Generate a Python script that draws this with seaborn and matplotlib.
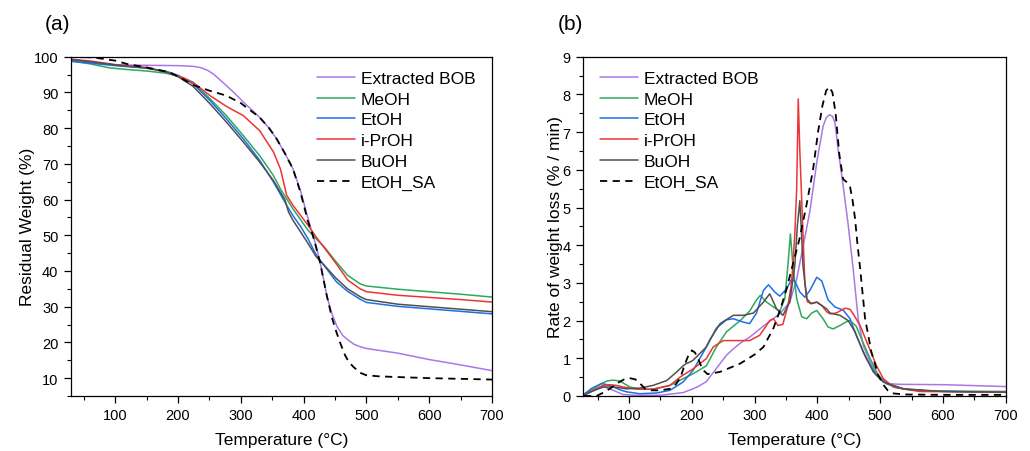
import numpy as np
import pandas as pd
import matplotlib
matplotlib.use("Agg")
import matplotlib.pyplot as plt
from matplotlib.ticker import MultipleLocator
import seaborn as sns

# ---------------- data: panel (a) TGA ----------------
labels = ["Extracted BOB", "MeOH", "EtOH", "i-PrOH", "BuOH", "EtOH_SA"]

tga_bob_T = [30, 60, 100, 150, 200, 225, 237, 247, 256, 265, 277, 290, 304, 320, 330, 345, 357, 370, 383, 395, 405, 413, 420, 428, 437, 445, 453, 462, 470, 480, 490, 500, 550, 600, 650, 700]
tga_bob_W = [99.0, 98.3, 97.7, 97.6, 97.5, 97.3, 96.9, 96.2, 95.2, 93.8, 91.9, 89.8, 87.3, 84.7, 83.0, 80.0, 77.0, 73.0, 68.6, 62.5, 56.0, 51.0, 47.0, 41.0, 33.0, 28.0, 24.5, 22.0, 20.8, 19.5, 18.8, 18.3, 17.0, 15.2, 13.7, 12.1]

tga_meoh_T = [30, 60, 90, 120, 150, 180, 200, 224, 251, 277, 304, 330, 352, 363, 383, 407, 420, 435, 452, 470, 490, 500, 550, 600, 650, 700]
tga_meoh_W = [98.8, 98.0, 96.9, 96.4, 96.0, 95.4, 94.6, 92.8, 88.2, 83.5, 77.9, 72.3, 66.7, 63.0, 57.4, 51.4, 49.0, 46.3, 42.5, 38.8, 36.4, 35.8, 34.9, 34.2, 33.5, 32.7]

tga_etoh_T = [30, 60, 100, 150, 180, 200, 224, 251, 277, 304, 330, 352, 373, 383, 395, 407, 420, 435, 452, 470, 490, 500, 550, 600, 650, 700]
tga_etoh_W = [98.7, 98.2, 97.5, 96.8, 96.0, 94.8, 92.4, 87.7, 82.6, 77.0, 71.0, 64.9, 58.4, 55.5, 52.5, 49.0, 44.5, 41.0, 37.0, 34.3, 32.1, 31.2, 30.1, 29.4, 28.7, 28.0]

tga_iproh_T = [30, 60, 100, 150, 187, 210, 224, 251, 277, 304, 330, 352, 363, 373, 383, 407, 420, 435, 452, 470, 490, 500, 550, 600, 650, 700]
tga_iproh_W = [99.3, 98.8, 97.8, 97.0, 95.4, 94.0, 92.8, 89.1, 86.1, 83.5, 79.3, 73.3, 68.6, 61.2, 58.4, 52.8, 49.5, 46.0, 42.0, 37.5, 35.0, 34.2, 33.2, 32.6, 32.0, 31.3]

tga_buoh_T = [30, 60, 100, 150, 180, 200, 224, 251, 277, 304, 330, 352, 370, 376, 383, 395, 407, 420, 435, 452, 470, 490, 500, 550, 600, 650, 700]
tga_buoh_W = [99.2, 98.6, 97.7, 96.8, 95.8, 94.4, 91.7, 86.8, 81.7, 76.1, 70.5, 65.3, 60.0, 56.5, 54.2, 51.0, 47.7, 44.0, 41.2, 37.9, 35.0, 32.8, 32.0, 30.7, 30.0, 29.3, 28.6]

tga_sa_T = [30, 65, 100, 118, 150, 187, 205, 224, 250, 277, 300, 330, 345, 357, 370, 383, 395, 407, 413, 420, 426, 437, 445, 452, 459, 466, 472, 479, 490, 500, 520, 550, 600, 650, 700]
tga_sa_W = [100.0, 99.8, 98.9, 98.0, 97.0, 95.6, 94.0, 92.1, 90.5, 89.1, 87.0, 83.0, 80.0, 77.0, 73.0, 68.6, 62.0, 53.8, 51.0, 46.5, 42.5, 33.0, 27.0, 23.0, 19.5, 16.4, 14.5, 13.2, 11.5, 10.8, 10.5, 10.3, 10.0, 9.8, 9.6]

# ---------------- data: panel (b) DTG ----------------
dtg_bob_T = [28, 45, 60, 75, 90, 110, 150, 186, 200, 210, 223, 239, 255, 266, 277, 292, 319, 340, 356, 367, 377, 388, 399, 409, 414, 419, 424, 428, 433, 441, 449, 457, 465, 473, 484, 494, 510, 530, 600, 700]
dtg_bob_v = [0.04, 0.15, 0.24, 0.15, 0.04, 0.02, 0.02, 0.09, 0.18, 0.25, 0.38, 0.73, 1.08, 1.25, 1.40, 1.56, 1.92, 2.18, 2.49, 3.1, 3.95, 4.9, 6.2, 7.15, 7.38, 7.46, 7.42, 7.25, 6.55, 5.58, 4.55, 3.37, 2.05, 1.34, 0.9, 0.59, 0.33, 0.31, 0.3, 0.25]

dtg_meoh_T = [28, 40, 55, 65, 74, 85, 101, 117, 138, 165, 186, 202, 223, 239, 255, 277, 292, 303, 309, 319, 330, 340, 348, 353, 357, 361, 367, 375, 383, 391, 399, 409, 417, 425, 436, 446, 452, 462, 470, 484, 497, 510, 525, 550, 600, 700]
dtg_meoh_v = [0.05, 0.15, 0.32, 0.4, 0.42, 0.4, 0.24, 0.18, 0.18, 0.28, 0.46, 0.59, 0.8, 1.3, 1.7, 2.0, 2.25, 2.55, 2.67, 2.49, 2.36, 2.25, 2.58, 3.46, 4.3, 3.46, 2.58, 2.1, 2.05, 2.2, 2.27, 2.05, 1.83, 1.78, 1.87, 1.97, 2.0, 1.85, 1.52, 0.99, 0.55, 0.33, 0.22, 0.15, 0.13, 0.12]

dtg_etoh_T = [28, 40, 56, 65, 75, 86, 96, 117, 144, 165, 186, 202, 223, 239, 255, 266, 282, 292, 303, 314, 322, 332, 340, 351, 359, 364, 372, 380, 388, 399, 407, 417, 428, 441, 452, 462, 478, 494, 510, 537, 579, 700]
dtg_etoh_v = [0.04, 0.2, 0.33, 0.3, 0.24, 0.16, 0.11, 0.06, 0.08, 0.15, 0.37, 0.68, 1.3, 1.8, 2.02, 2.05, 1.96, 1.92, 2.2, 2.8, 2.95, 2.76, 2.65, 2.84, 3.1, 3.05, 2.76, 2.62, 2.8, 3.15, 3.05, 2.55, 2.36, 2.28, 2.05, 1.6, 0.99, 0.55, 0.33, 0.19, 0.13, 0.1]

dtg_iproh_T = [28, 40, 58, 69, 80, 90, 112, 138, 165, 181, 202, 223, 234, 250, 266, 292, 308, 318, 324, 330, 337, 345, 353, 358, 361, 364, 367, 369.5, 372, 375, 380, 384, 390, 399, 407, 415, 420, 430, 444, 452, 457, 468, 481, 494, 505, 521, 563, 700]
dtg_iproh_v = [0.02, 0.12, 0.28, 0.3, 0.28, 0.24, 0.18, 0.18, 0.28, 0.5, 0.72, 0.99, 1.3, 1.47, 1.47, 1.47, 1.61, 1.85, 2.0, 2.05, 1.87, 1.9, 2.4, 2.9, 3.46, 4.3, 5.5, 7.88, 6.5, 5.2, 3.0, 2.5, 2.45, 2.49, 2.4, 2.23, 2.18, 2.2, 2.33, 2.3, 2.18, 1.87, 1.34, 0.81, 0.46, 0.24, 0.12, 0.1]

dtg_buoh_T = [28, 40, 58, 75, 96, 117, 138, 160, 176, 186, 191, 197, 202, 207, 223, 229, 245, 266, 282, 298, 314, 324, 335, 345, 356, 364, 368, 372, 375, 377, 383, 390, 399, 407, 415, 420, 436, 449, 460, 473, 489, 505, 537, 600, 700]
dtg_buoh_v = [0.02, 0.12, 0.24, 0.24, 0.19, 0.21, 0.28, 0.41, 0.64, 0.8, 0.86, 0.9, 0.95, 1.03, 1.3, 1.5, 1.92, 2.14, 2.14, 2.2, 2.49, 2.71, 2.31, 2.14, 2.49, 3.46, 4.5, 5.18, 4.2, 3.46, 2.58, 2.45, 2.49, 2.4, 2.31, 2.2, 2.14, 2.0, 1.7, 1.17, 0.64, 0.37, 0.19, 0.12, 0.1]

dtg_sa_T = [28, 48, 59, 70, 80, 92, 102, 110, 118, 125, 135, 150, 165, 175, 182, 189, 195, 200, 205, 210, 217, 225, 245, 277, 300, 314, 330, 341, 351, 361, 372, 383, 393, 401, 408, 414, 419, 424, 429, 435, 441, 447, 452, 456, 460, 464, 468, 476, 486, 497, 505, 512, 520, 540, 600, 700]
dtg_sa_v = [0.0, 0.0, 0.09, 0.2, 0.33, 0.44, 0.47, 0.44, 0.32, 0.2, 0.15, 0.15, 0.19, 0.32, 0.5, 0.85, 1.1, 1.21, 1.15, 0.99, 0.7, 0.58, 0.64, 0.86, 1.1, 1.3, 1.8, 2.3, 2.85, 3.5, 4.2, 5.1, 6.0, 7.0, 7.7, 8.1, 8.2, 8.05, 7.5, 6.4, 5.75, 5.67, 5.55, 5.2, 4.7, 4.0, 3.4, 2.05, 1.17, 0.55, 0.3, 0.15, 0.07, 0.04, 0.03, 0.03]

colors = ["#A978E6", "#2FA85C", "#1E6FE6", "#EE3434", "#505050", "#000000"]

tga_series = [(tga_bob_T, tga_bob_W), (tga_meoh_T, tga_meoh_W), (tga_etoh_T, tga_etoh_W),
              (tga_iproh_T, tga_iproh_W), (tga_buoh_T, tga_buoh_W), (tga_sa_T, tga_sa_W)]
dtg_series = [(dtg_bob_T, dtg_bob_v), (dtg_meoh_T, dtg_meoh_v), (dtg_etoh_T, dtg_etoh_v),
              (dtg_iproh_T, dtg_iproh_v), (dtg_buoh_T, dtg_buoh_v), (dtg_sa_T, dtg_sa_v)]

sns.set_theme(style="ticks")
plt.rcParams["font.family"] = ["Liberation Sans", "DejaVu Sans"]
plt.rcParams["axes.linewidth"] = 0.9
for k in ["text.color", "axes.labelcolor", "xtick.color", "ytick.color", "axes.edgecolor"]:
    plt.rcParams[k] = "black"

fig = plt.figure(figsize=(10.3, 4.52), dpi=100)
ax1 = fig.add_axes([0.0689, 0.1217, 0.4088, 0.7506])
ax2 = fig.add_axes([0.5663, 0.1217, 0.4101, 0.7506])


def draw(ax, series):
    for (T, v), lab, c in zip(series, labels, colors):
        df = pd.DataFrame({"T": T, "v": v})
        if lab == "EtOH_SA":
            sns.lineplot(data=df, x="T", y="v", ax=ax, color=c, lw=1.3, label=lab,
                         sort=False, estimator=None, linestyle=(0, (4, 3)))
        else:
            sns.lineplot(data=df, x="T", y="v", ax=ax, color=c, lw=1.1, label=lab,
                         sort=False, estimator=None)


draw(ax1, tga_series)
draw(ax2, dtg_series)

for ax in (ax1, ax2):
    ax.xaxis.set_major_locator(MultipleLocator(100))
    ax.xaxis.set_minor_locator(MultipleLocator(50))
    ax.tick_params(axis="both", which="major", direction="out", length=5, width=0.9,
                   labelsize=10.5, colors="black", pad=4)
    ax.tick_params(axis="both", which="minor", direction="out", length=3, width=0.8)
    ax.set_xlabel("Temperature (°C)", fontsize=12.5, labelpad=7)

ax1.set_xlim(29.5, 700)
ax1.set_ylim(5, 100)
ax1.set_yticks([10, 20, 30, 40, 50, 60, 70, 80, 90, 100])
ax1.yaxis.set_minor_locator(MultipleLocator(5))
ax1.set_ylabel("Residual Weight (%)", fontsize=12.5, labelpad=-1)

ax2.set_xlim(27, 700)
ax2.set_ylim(0, 9)
ax2.yaxis.set_major_locator(MultipleLocator(1))
ax2.yaxis.set_minor_locator(MultipleLocator(0.5))
ax2.set_ylabel("Rate of weight loss (% / min)", fontsize=12.5, labelpad=0)

leg_kw = dict(frameon=False, fontsize=12.5, handlelength=2.2, handletextpad=0.35,
              labelspacing=0.33, borderpad=0.2)
ax1.legend(loc="upper right", bbox_to_anchor=(0.99, 0.995), **leg_kw)
ax2.legend(loc="upper left", bbox_to_anchor=(0.01, 0.995), **leg_kw)

fig.text(57 / 1030, 1 - 24 / 452, "(a)", ha="center", va="center", fontsize=15)
fig.text(570 / 1030, 1 - 24 / 452, "(b)", ha="center", va="center", fontsize=15)

fig.savefig("out.png", dpi=100)
